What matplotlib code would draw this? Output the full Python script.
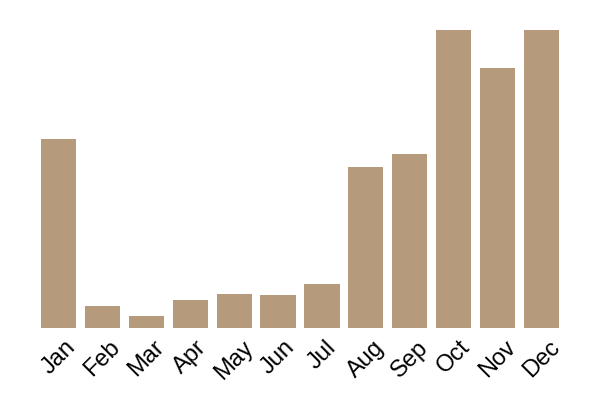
import matplotlib
matplotlib.use("Agg")
import matplotlib.pyplot as plt

months = ["Jan", "Feb", "Mar", "Apr", "May", "Jun",
          "Jul", "Aug", "Sep", "Oct", "Nov", "Dec"]
values = [189, 22, 12, 28, 34, 33, 44, 161, 174, 298, 260, 298]

plt.rcParams["font.family"] = ["Liberation Sans", "DejaVu Sans"]

fig = plt.figure(figsize=(6, 4), dpi=100)
ax = fig.add_axes([41 / 600, 72 / 400, 518 / 600, 298 / 400])

x = range(len(months))
ax.bar(x, values, width=0.8, color="#b59b7c")

ax.set_xlim(-0.4, len(months) - 0.6)
ax.set_ylim(0, max(values))
ax.set_xticks(list(x))
ax.set_xticklabels(months, rotation=45, ha="center", va="top", fontsize=17)
ax.tick_params(axis="x", length=0, pad=6)
ax.set_yticks([])
for s in ax.spines.values():
    s.set_visible(False)

fig.savefig("out.png", dpi=100)
